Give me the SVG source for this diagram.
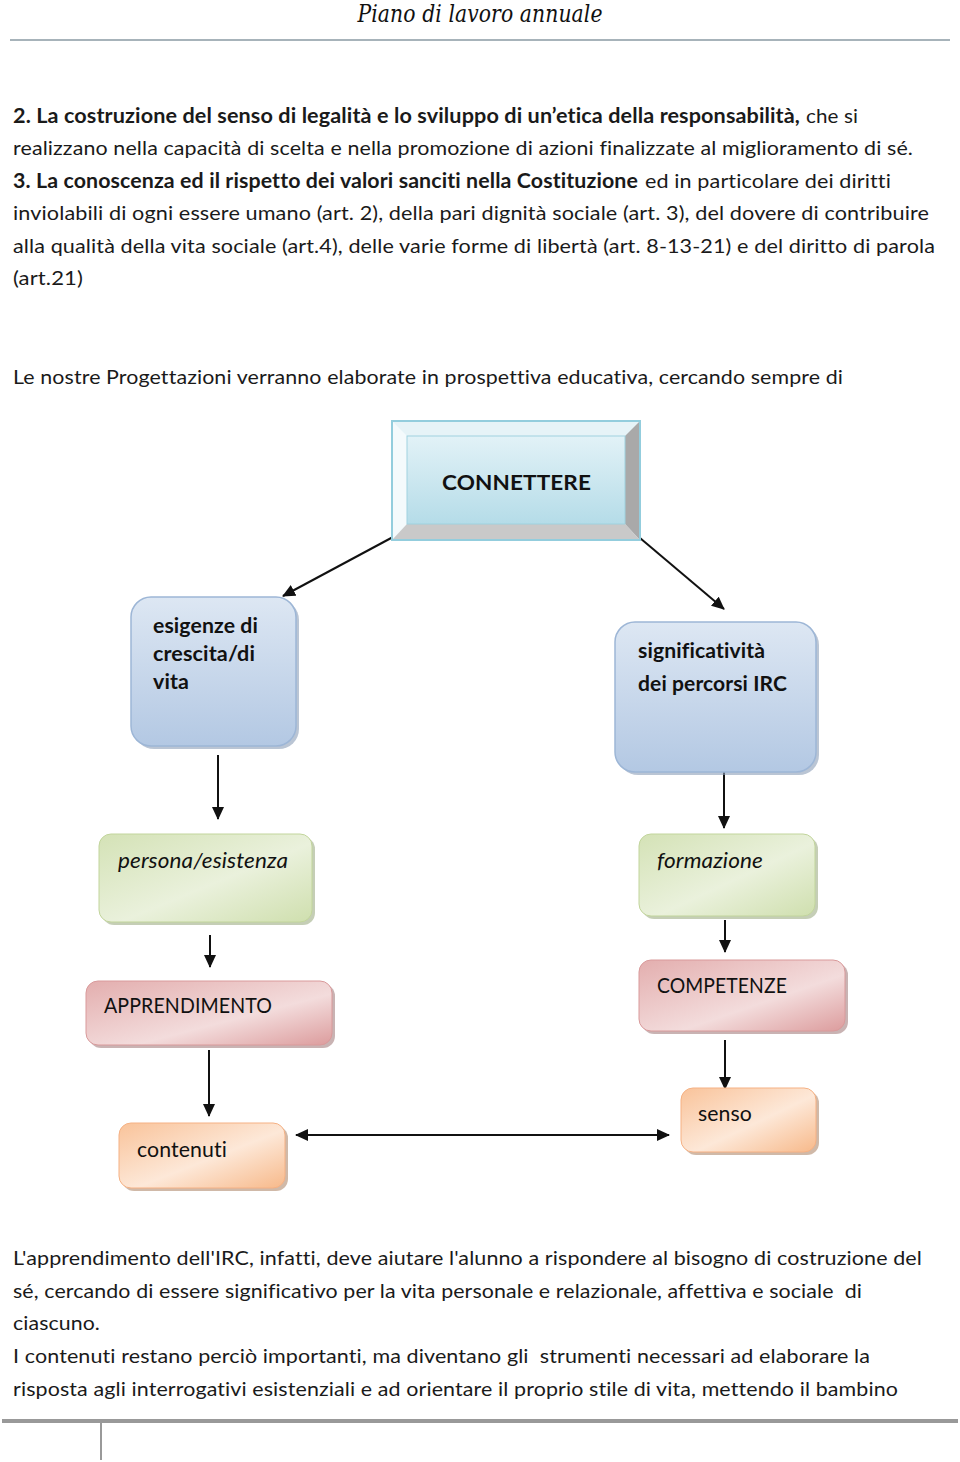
<svg xmlns="http://www.w3.org/2000/svg" width="960" height="1462" viewBox="0 0 960 1462">
<style>
text{font-variant-ligatures:none;font-feature-settings:"liga" 0,"clig" 0,"calt" 0,"dlig" 0;letter-spacing:0.1px}
.t{font-family:Lato,"Open Sans","Liberation Sans",sans-serif;font-size:20px;fill:#1a1a1a}
.b{font-weight:bold}
.n{font-family:Lato,"Open Sans","Liberation Sans",sans-serif;font-size:21px;fill:#111}
.c{stroke:#111;stroke-width:2;fill:none}
</style>
<defs>
<marker id="ah" markerWidth="13" markerHeight="12" refX="12" refY="6" orient="auto" markerUnits="userSpaceOnUse" viewBox="0 0 13 12"><path d="M0,0 L13,6 L0,12 z" fill="#111"/></marker>
<marker id="as" markerWidth="13" markerHeight="12" refX="1" refY="6" orient="auto" markerUnits="userSpaceOnUse" viewBox="0 0 13 12"><path d="M13,0 L0,6 L13,12 z" fill="#111"/></marker>
<linearGradient id="gBlue" x1="0" y1="0" x2="0" y2="1"><stop offset="0" stop-color="#dde7f3"/><stop offset="1" stop-color="#b3c8e3"/></linearGradient>
<linearGradient id="gGreen" x1="0" y1="0" x2="1" y2="1"><stop offset="0" stop-color="#d4e2b6"/><stop offset="0.55" stop-color="#eaf1dc"/><stop offset="1" stop-color="#cfdfae"/></linearGradient>
<linearGradient id="gRed" x1="0" y1="0" x2="1" y2="1"><stop offset="0" stop-color="#e3aeae"/><stop offset="0.6" stop-color="#f3dcdc"/><stop offset="1" stop-color="#dc9c9d"/></linearGradient>
<linearGradient id="gOr" x1="0" y1="0" x2="1" y2="1"><stop offset="0" stop-color="#f9c39a"/><stop offset="0.55" stop-color="#fde8d8"/><stop offset="1" stop-color="#f7b98a"/></linearGradient>
<linearGradient id="gCyan" x1="0" y1="0" x2="0" y2="1"><stop offset="0" stop-color="#e2f2f7"/><stop offset="1" stop-color="#b5dce8"/></linearGradient>
</defs>

<g id="header">
<text x="480" y="22" text-anchor="middle" font-family="'DejaVu Serif','Liberation Serif',serif" font-style="italic" font-size="24" fill="#111" textLength="245" lengthAdjust="spacingAndGlyphs">Piano di lavoro annuale</text>
<line x1="10" y1="40" x2="950" y2="40" stroke="#a7b3ba" stroke-width="2"/>
</g>

<g id="intro-text">
<text class="t b" x="13" y="123" textLength="787" lengthAdjust="spacingAndGlyphs">2. La costruzione del senso di legalità e lo sviluppo di un’etica della responsabilità,</text>
<text class="t" x="806" y="123" textLength="52" lengthAdjust="spacingAndGlyphs">che si</text>
<text class="t" x="13" y="155" textLength="900" lengthAdjust="spacingAndGlyphs">realizzano nella capacità di scelta e nella promozione di azioni finalizzate al miglioramento di sé.</text>
<text class="t b" x="13" y="188" textLength="625" lengthAdjust="spacingAndGlyphs">3. La conoscenza ed il rispetto dei valori sanciti nella Costituzione</text>
<text class="t" x="645" y="188" textLength="246" lengthAdjust="spacingAndGlyphs">ed in particolare dei diritti</text>
<text class="t" x="13" y="220" textLength="916" lengthAdjust="spacingAndGlyphs">inviolabili di ogni essere umano (art. 2), della pari dignità sociale (art. 3), del dovere di contribuire</text>
<text class="t" x="13" y="253" textLength="922" lengthAdjust="spacingAndGlyphs">alla qualità della vita sociale (art.4), delle varie forme di libertà (art. 8-13-21) e del diritto di parola</text>
<text class="t" x="13" y="285" textLength="70" lengthAdjust="spacingAndGlyphs">(art.21)</text>
<text class="t" x="13" y="384" textLength="830" lengthAdjust="spacingAndGlyphs">Le nostre Progettazioni verranno elaborate in prospettiva educativa, cercando sempre di</text>
</g>

<g id="connectors">
<line class="c" x1="393" y1="537" x2="283" y2="596" marker-end="url(#ah)"/>
<line class="c" x1="640" y1="538" x2="724" y2="609" marker-end="url(#ah)"/>
<line class="c" x1="218" y1="755" x2="218" y2="819" marker-end="url(#ah)"/>
<line class="c" x1="724" y1="772" x2="724" y2="828" marker-end="url(#ah)"/>
<line class="c" x1="210" y1="935" x2="210" y2="967" marker-end="url(#ah)"/>
<line class="c" x1="725" y1="920" x2="725" y2="952" marker-end="url(#ah)"/>
<line class="c" x1="209" y1="1050" x2="209" y2="1116" marker-end="url(#ah)"/>
<line class="c" x1="725" y1="1040" x2="725" y2="1089" marker-end="url(#ah)"/>
<line class="c" x1="296" y1="1135" x2="669" y2="1135" marker-start="url(#as)" marker-end="url(#ah)"/>
</g>

<g id="node-connettere">
<rect x="392" y="421" width="248" height="119" fill="#e9f5f9" stroke="#93cddd" stroke-width="2"/>
<polygon points="393,422 639,422 625,436 407,436" fill="#e6f3f7"/>
<polygon points="393,422 407,436 407,524 393,539" fill="#f4fafc"/>
<polygon points="639,422 639,539 625,524 625,436" fill="#a9a9a9"/>
<polygon points="393,539 639,539 625,524 407,524" fill="#c9c9c9"/>
<rect x="407" y="436" width="218" height="88" fill="url(#gCyan)" stroke="#9fd2df" stroke-width="1"/>
<text class="n" x="442" y="490" font-size="24" font-weight="bold" textLength="149" lengthAdjust="spacingAndGlyphs">CONNETTERE</text>
</g>

<g id="node-esigenze">
<rect x="134" y="600" width="165" height="149" rx="20" fill="#8c9fb8" opacity="0.6"/>
<rect x="131" y="597" width="165" height="149" rx="20" fill="url(#gBlue)" stroke="#9db6d6" stroke-width="1.5"/>
<text class="n b" x="153" y="633" textLength="105" lengthAdjust="spacingAndGlyphs">esigenze di</text>
<text class="n b" x="153" y="661" textLength="102" lengthAdjust="spacingAndGlyphs">crescita/di</text>
<text class="n b" x="153" y="689" textLength="36" lengthAdjust="spacingAndGlyphs">vita</text>
</g>

<g id="node-significativita">
<rect x="618" y="625" width="201" height="150" rx="20" fill="#8c9fb8" opacity="0.6"/>
<rect x="615" y="622" width="201" height="150" rx="20" fill="url(#gBlue)" stroke="#9db6d6" stroke-width="1.5"/>
<text class="n b" x="638" y="658" textLength="127" lengthAdjust="spacingAndGlyphs">significatività</text>
<text class="n b" x="638" y="691" textLength="149" lengthAdjust="spacingAndGlyphs">dei percorsi IRC</text>
</g>

<g id="node-persona">
<rect x="102" y="837" width="213" height="88" rx="12" fill="#9fae85" opacity="0.6"/>
<rect x="99" y="834" width="213" height="88" rx="12" fill="url(#gGreen)" stroke="#c2d59c" stroke-width="1"/>
<text class="n" x="118" y="868" font-style="italic" textLength="170" lengthAdjust="spacingAndGlyphs">persona/esistenza</text>
</g>

<g id="node-formazione">
<rect x="642" y="837" width="176" height="82" rx="12" fill="#9fae85" opacity="0.6"/>
<rect x="639" y="834" width="176" height="82" rx="12" fill="url(#gGreen)" stroke="#c2d59c" stroke-width="1"/>
<text class="n" x="657" y="868" font-style="italic" textLength="106" lengthAdjust="spacingAndGlyphs">formazione</text>
</g>

<g id="node-apprendimento">
<rect x="89" y="984" width="246" height="64" rx="12" fill="#a58080" opacity="0.6"/>
<rect x="86" y="981" width="246" height="64" rx="12" fill="url(#gRed)" stroke="#d99a9b" stroke-width="1"/>
<text class="n" x="104" y="1013" textLength="168" lengthAdjust="spacingAndGlyphs">APPRENDIMENTO</text>
</g>

<g id="node-competenze">
<rect x="642" y="963" width="206" height="71" rx="12" fill="#a58080" opacity="0.6"/>
<rect x="639" y="960" width="206" height="71" rx="12" fill="url(#gRed)" stroke="#d99a9b" stroke-width="1"/>
<text class="n" x="657" y="993" textLength="130" lengthAdjust="spacingAndGlyphs">COMPETENZE</text>
</g>

<g id="node-contenuti">
<rect x="122" y="1126" width="166" height="65" rx="12" fill="#b08a6e" opacity="0.6"/>
<rect x="119" y="1123" width="166" height="65" rx="12" fill="url(#gOr)" stroke="#f5b184" stroke-width="1"/>
<text class="n" x="137" y="1157" textLength="90" lengthAdjust="spacingAndGlyphs">contenuti</text>
</g>

<g id="node-senso">
<rect x="684" y="1091" width="135" height="64" rx="12" fill="#b08a6e" opacity="0.6"/>
<rect x="681" y="1088" width="135" height="64" rx="12" fill="url(#gOr)" stroke="#f5b184" stroke-width="1"/>
<text class="n" x="698" y="1121" textLength="54" lengthAdjust="spacingAndGlyphs">senso</text>
</g>

<g id="closing-text">
<text class="t" x="13" y="1265" textLength="909" lengthAdjust="spacingAndGlyphs">L'apprendimento dell'IRC, infatti, deve aiutare l'alunno a rispondere al bisogno di costruzione del</text>
<text class="t" x="13" y="1298" textLength="849" lengthAdjust="spacingAndGlyphs" xml:space="preserve">sé, cercando di essere significativo per la vita personale e relazionale, affettiva e sociale  di</text>
<text class="t" x="13" y="1330" textLength="87" lengthAdjust="spacingAndGlyphs">ciascuno.</text>
<text class="t" x="13" y="1363" textLength="857" lengthAdjust="spacingAndGlyphs" xml:space="preserve">I contenuti restano perciò importanti, ma diventano gli  strumenti necessari ad elaborare la</text>
<text class="t" x="13" y="1396" textLength="885" lengthAdjust="spacingAndGlyphs">risposta agli interrogativi esistenziali e ad orientare il proprio stile di vita, mettendo il bambino</text>
</g>

<g id="footer">
<line x1="2" y1="1421" x2="958" y2="1421" stroke="#999" stroke-width="4"/>
<line x1="101" y1="1423" x2="101" y2="1460" stroke="#999" stroke-width="2"/>
</g>
</svg>
